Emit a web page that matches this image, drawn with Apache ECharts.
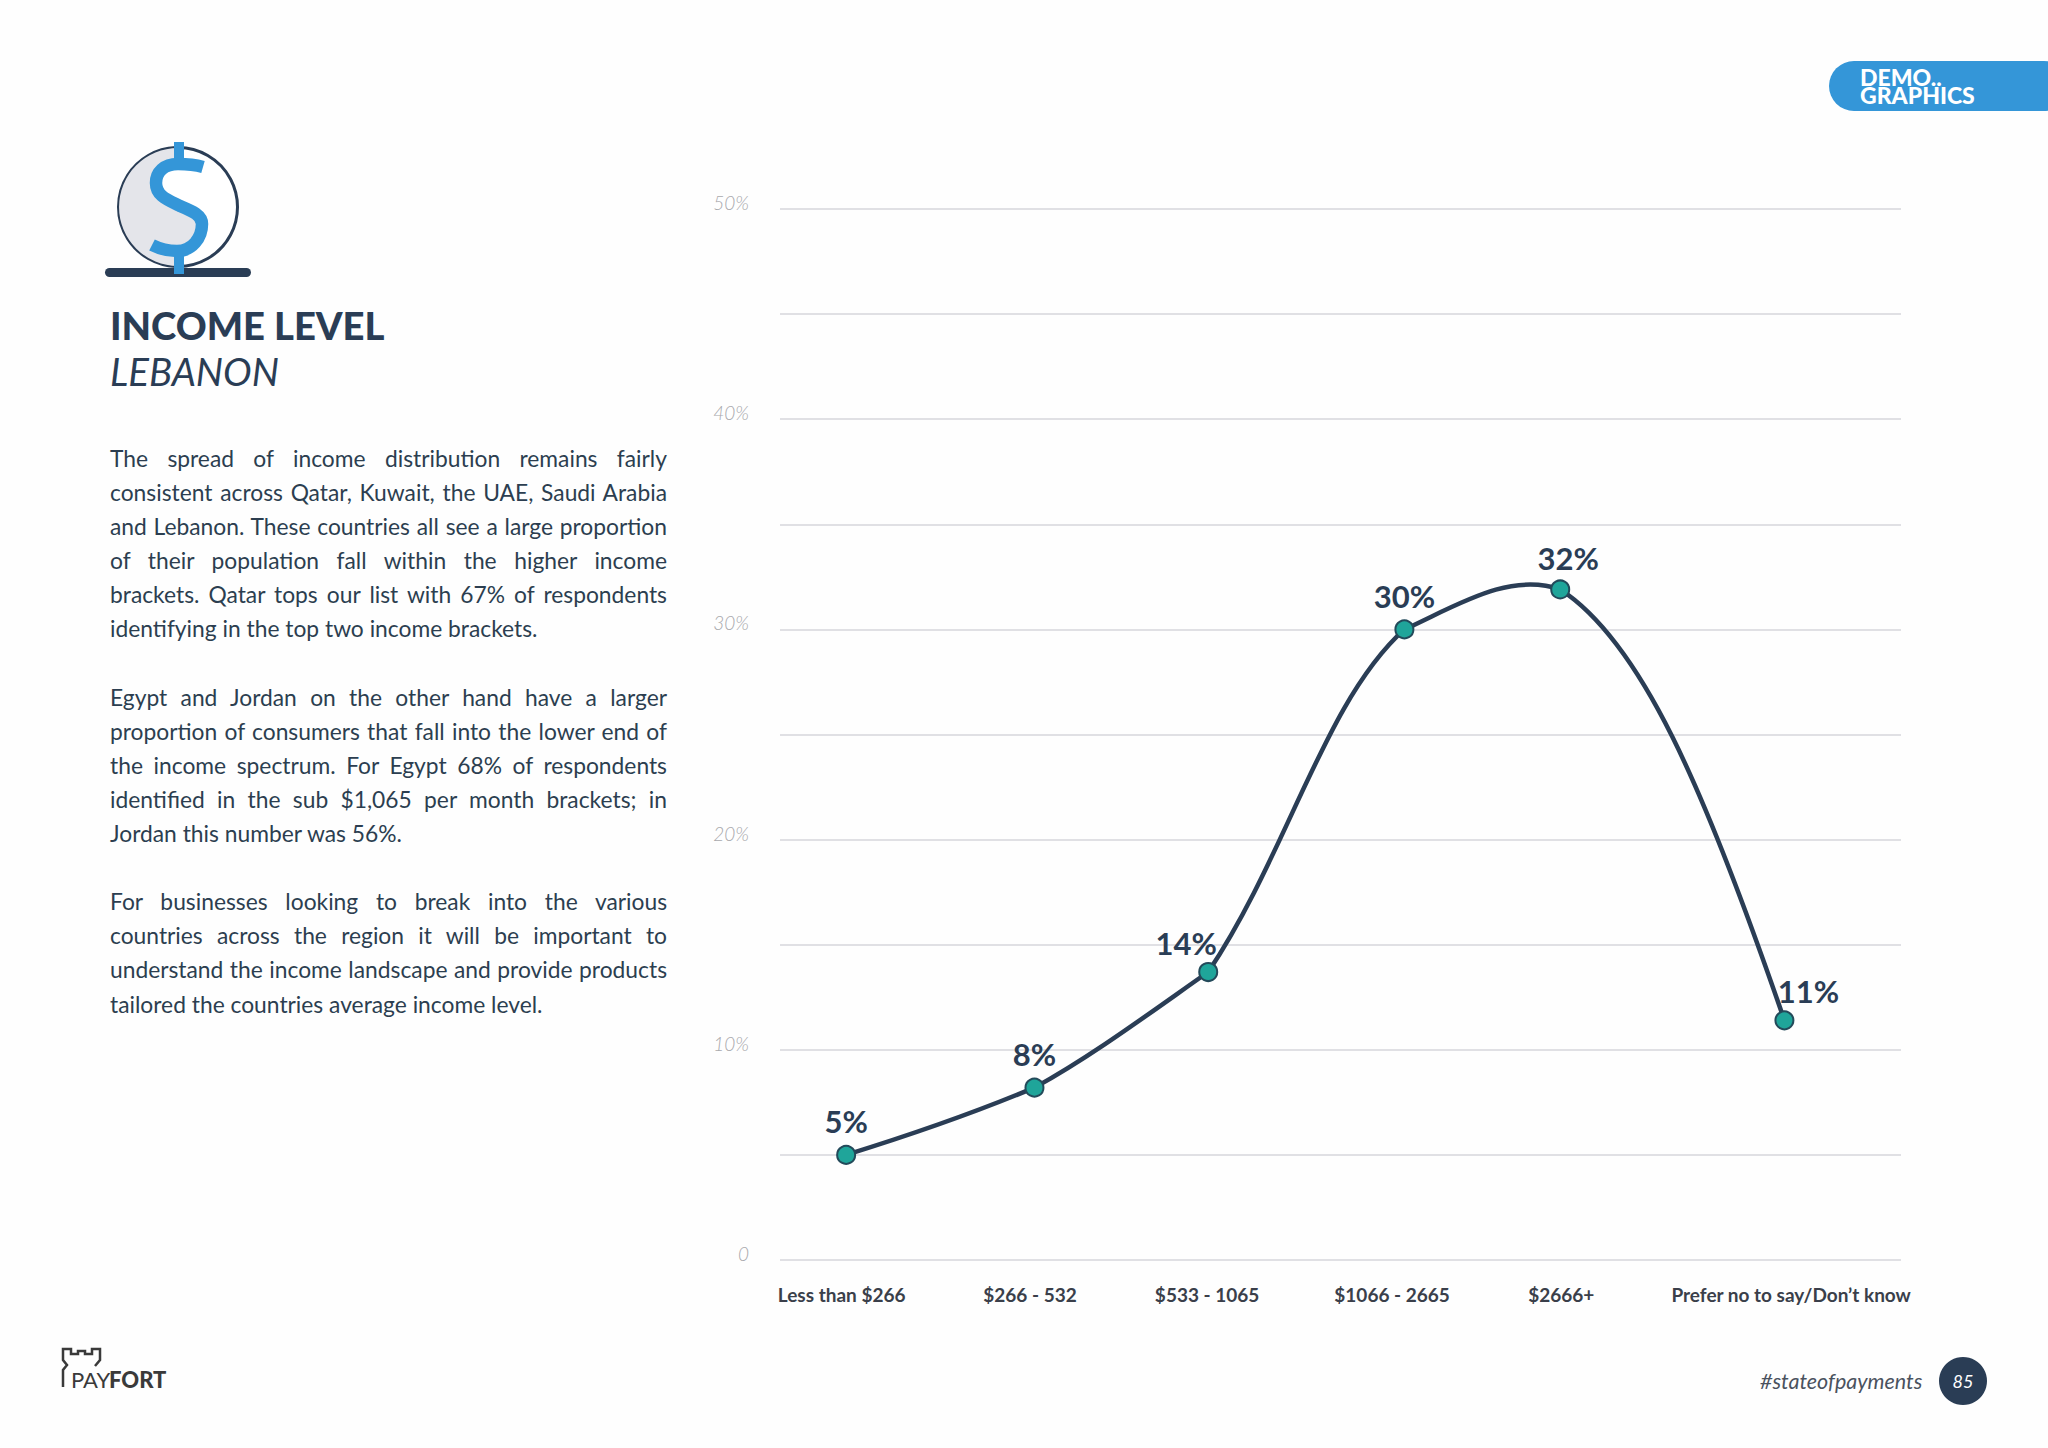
<!DOCTYPE html>
<html><head><meta charset="utf-8">
<script src="https://cdn.jsdelivr.net/npm/echarts@6/dist/echarts.min.js"></script>
<style>
html,body{margin:0;padding:0;background:#fefefe;}
#c{position:absolute;left:0;top:0;width:2048px;height:1448px;}
#body{position:absolute;left:110px;width:557px;font:400 22.8px/34.1px Lato,sans-serif;color:#2c3e50;}
#body div{white-space:nowrap;text-align:justify;text-align-last:justify;height:34.1px;}
#body div.l{text-align-last:left;}
</style></head><body>
<div id="c"></div>
<div id="body" style="top:441px"></div>
<script>
const categories = ['Less than $266','$266 - 532','$533 - 1065','$1066 - 2665','$2666+','Prefer no to say/Don\u2019t know'];
const values = [5, 8.2, 13.7, 30, 31.9, 11.4];
const xSlots = [5.9, 22.7, 38.2, 55.7, 69.6, 89.6];
const labelSlots = [5.5, 22.3, 38.1, 54.6, 69.7, 90.2];
const yTickLabels = {0:'0',10:'10%',20:'20%',30:'30%',40:'40%',50:'50%'};
const title = 'INCOME LEVEL';
const subtitle = 'LEBANON';
const paragraphs = [
 ['The spread of income distribution remains fairly','consistent across Qatar, Kuwait, the UAE, Saudi Arabia','and Lebanon. These countries all see a large proportion','of their population fall within the higher income','brackets. Qatar tops our list with 67% of respondents','identifying in the top two income brackets.'],
 ['Egypt and Jordan on the other hand have a larger','proportion of consumers that fall into the lower end of','the income spectrum. For Egypt 68% of respondents','identified in the sub $1,065 per month brackets; in','Jordan this number was 56%.'],
 ['For businesses looking to break into the various','countries across the region it will be important to','understand the income landscape and provide products','tailored the countries average income level.']
];

// style of the curve and labels (not data)
const labelOffsets = [[0,-34],[0,-34],[-22,-29],[0,-33],[8,-31],[24,-29]];
const slopeIn  = [0, -0.42, -0.70, -0.90, 0.35, 2.9];
const slopeOut = [-0.31, -0.55, -1.50, -0.45, 0.65, 0];
const handleFractions = [0.33, 0.33, 0.41, 0.33, 0.36];
const NAVY='#2a3d55', BLUE='#3496d8', TEAL='#1fa59a', FONT='Lato, sans-serif';

const points = values.map((v,i)=>[xSlots[i], v]);

document.getElementById('body').innerHTML = paragraphs.map(p =>
  p.map((t,i)=>`<div class="${i===p.length-1?'l':''}">${t}</div>`).join('')
).join('<div class="l"></div>');

echarts.graphic.registerShape('iconShade', echarts.graphic.extendPath('M178 148 A59 59 0 0 0 178 266 L178 250 C192 251 202 238 202 224 C202 215 192 211 180 206 C168 200 156 196 156 183 C156 172 164 165 178 164 Z'));
echarts.graphic.registerShape('iconS', echarts.graphic.extendPath('M203 167 C196 165 188 164 178 164 C164 164 156 172 156 183 C156 196 168 200 180 206 C192 211 202 215 202 224 C202 238 192 251 177 251 C168 251 160 249 152 245'));

const chart = echarts.init(document.getElementById('c'), null, {renderer:'svg', width:2048, height:1448});
const graphic = [
  // page tag
  {type:'rect',shape:{x:1829,y:61,width:240,height:50,r:25},style:{fill:BLUE}},
  {type:'text',style:{x:1860,y:86,text:'DEMO..\nGRAPHICS',fill:'#fff',font:'900 23px '+FONT,lineHeight:18,textVerticalAlign:'middle'}},
  // icon
  {type:'circle',shape:{cx:178,cy:207,r:59.5},style:{fill:'#fff',stroke:NAVY,lineWidth:3}},
  {type:'iconShade',shape:{},style:{fill:'#e4e5ea',stroke:null}},
  {type:'rect',shape:{x:105,y:268,width:146,height:9,r:4.5},style:{fill:NAVY}},
  {type:'iconS',shape:{},style:{fill:null,stroke:BLUE,lineWidth:12.5}},
  {type:'rect',shape:{x:174,y:142,width:10,height:22},style:{fill:BLUE}},
  {type:'rect',shape:{x:174,y:250,width:10,height:24},style:{fill:BLUE}},
  // headings
  {type:'text',style:{x:110,y:325,text:title,fill:NAVY,font:'900 38.2px '+FONT,textVerticalAlign:'middle'}},
  {type:'text',style:{x:110,y:371,text:subtitle,fill:NAVY,font:'italic 400 38.4px '+FONT,textVerticalAlign:'middle'}},
  // footer logo
  {type:'polyline',shape:{points:[[63,1387],[63,1370],[67,1365],[63,1360],[63,1349],[71,1349],[71,1354],[78,1354],[78,1351],[85,1351],[85,1354],[92,1354],[92,1349],[100,1349],[100,1360],[95,1366]]},style:{fill:'none',stroke:'#3a3a3a',lineWidth:2.5}},
  {type:'text',style:{x:71,y:1379,text:'PAY',fill:'#3a3a3a',font:'400 22px '+FONT,textVerticalAlign:'middle'}},
  {type:'text',style:{x:109,y:1379,text:'FORT',fill:'#3a3a3a',font:'900 22px '+FONT,textVerticalAlign:'middle'}},
  // footer right
  {type:'text',style:{x:1760,y:1381,text:'#stateofpayments',fill:'#4a525e',font:'italic 400 21.5px '+FONT,textVerticalAlign:'middle'}},
  {type:'circle',shape:{cx:1963,cy:1381,r:24},style:{fill:NAVY}},
  {type:'text',style:{x:1963,y:1381,text:'85',fill:'#fff',font:'italic 400 18px '+FONT,textAlign:'center',textVerticalAlign:'middle'}}
];

chart.setOption({
  animation:false,
  backgroundColor:'#fefefe',
  graphic:graphic,
  grid:{left:780,right:147,top:209,bottom:188,containLabel:false},
  xAxis:{type:'value',min:0,max:100,
    axisLine:{show:false},axisTick:{show:false},splitLine:{show:false},
    axisLabel:{customValues:labelSlots,margin:25,hideOverlap:false,color:'#3a3f4a',
      fontFamily:FONT,fontWeight:700,fontSize:19,
      formatter:v=>categories[labelSlots.indexOf(v)]}},
  yAxis:{type:'value',min:0,max:50,interval:5,
    axisLine:{show:false},axisTick:{show:false},
    splitLine:{lineStyle:{color:'#e0e0e4',width:2}},
    axisLabel:{margin:31,color:'#a9a9ad',fontFamily:FONT,fontStyle:'italic',fontWeight:300,fontSize:19,
      verticalAlign:'bottom',lineHeight:13,
      formatter:v=>yTickLabels[v]||''}},
  series:[
   {type:'custom',coordinateSystem:'cartesian2d',data:points,z:4,silent:true,
    renderItem:(params,api)=>{
      const i=params.dataIndex;
      if(i>=points.length-1) return null;
      const a=api.coord(points[i]), b=api.coord(points[i+1]);
      const h=(b[0]-a[0])*handleFractions[i];
      return {type:'bezierCurve',
        shape:{x1:a[0],y1:a[1],x2:b[0],y2:b[1],
          cpx1:a[0]+h,cpy1:a[1]+h*slopeOut[i],
          cpx2:b[0]-h,cpy2:b[1]-h*slopeIn[i+1]},
        style:{fill:null,stroke:NAVY,lineWidth:4.5}};
    }},
   {type:'line',
    data:points.map((p,i)=>({value:p,label:{offset:labelOffsets[i]}})),
    lineStyle:{opacity:0},
    symbol:'circle',symbolSize:18,
    itemStyle:{color:TEAL,borderColor:'#234a5a',borderWidth:2},
    label:{show:true,position:'inside',color:NAVY,fontFamily:FONT,fontWeight:700,fontSize:31,
      formatter:p=>Math.round(p.value[1])+'%'},
    z:5}]
});
</script></body></html>
